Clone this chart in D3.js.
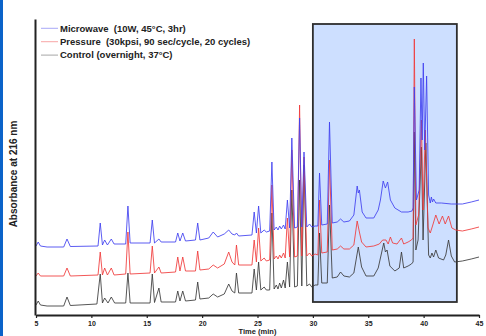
<!DOCTYPE html>
<html><head><meta charset="utf-8">
<script src="https://cdn.jsdelivr.net/npm/d3@7"></script>
<style>html,body{margin:0;padding:0;background:#fff;}svg{display:block;}</style>
</head><body>
<script>
// ---- data (time in min, absorbance in arbitrary units) ----
const seriesNames = ["Microwave  (10W, 45°C, 3hr)", "Pressure  (30kpsi, 90 sec/cycle, 20 cycles)", "Control (overnight, 37°C)"];
const xTicks = [5, 10, 15, 20, 25, 30, 35, 40, 45];
const highlightTime = [30, 43];
const highlightAbs = [13, 291];

const microwave = [[5,69],[5.2,73],[5.4,69],[6,68],[7.5,68],[7.8,76],[8.1,68.5],[10.6,69],[10.8,92],[11.0,70],[11.2,75],[11.45,70],[11.8,76],[12.05,71],[13.1,71],[13.3,109],[13.5,72],[15.3,72],[15.5,95],[15.7,72],[16.1,76],[16.3,73],[17.6,73],[17.8,82],[18.0,74],[18.25,82],[18.5,74],[19.4,75],[19.6,92],[19.8,75],[20.6,77],[21.0,83],[21.4,78],[22.0,81],[22.4,85],[22.7,81],[22.95,80],[23.1,82],[23.3,79],[24.5,80],[24.7,103],[24.9,82],[25.1,109],[25.3,82],[25.6,85],[25.8,83],[26.1,84],[26.3,153],[26.5,85],[26.7,88],[26.85,85],[27.0,89],[27.15,86],[27.35,90],[27.5,86],[27.7,115],[27.9,87],[28.1,177],[28.35,87],[28.6,88],[28.8,197],[29.0,88],[29.2,163],[29.45,88],[29.7,91],[29.9,88],[30.2,89],[30.45,89],[30.6,142],[30.8,90],[31.3,91],[31.5,193],[31.75,92],[32.2,93],[32.5,96],[32.8,93],[33.3,94],[33.7,100],[34.0,129],[34.1,122],[34.2,125],[34.45,103],[34.8,97],[35.5,97],[35.9,105],[36.1,115],[36.35,134],[36.55,127],[36.75,133],[37.0,115],[37.4,107],[38.0,103],[38.6,103],[38.95,104],[39.05,107],[39.16,228],[39.35,115],[39.6,125],[39.76,237],[39.87,175],[39.97,252],[40.1,165],[40.27,239],[40.45,120],[40.6,112],[40.7,118],[40.8,113],[40.9,116],[41.1,112],[41.6,112],[42.5,111],[43.5,111],[44.3,113],[45,115]];

const pressure = [[5,39],[5.2,42],[5.4,39],[7.5,39],[7.8,47],[8.1,39],[10.6,40],[10.8,63],[11.0,40],[11.2,47],[11.45,40],[11.8,47],[12.05,40],[13.1,41],[13.3,83],[13.5,41],[15.3,42],[15.5,69],[15.7,42],[16.1,48],[16.3,42],[17.6,43],[17.8,58],[18.0,44],[18.25,58],[18.5,44],[19.4,44],[19.6,64],[19.8,45],[20.6,46],[21.0,50],[21.4,47],[22.0,51],[22.4,63],[22.7,53],[22.95,50],[23.1,70],[23.3,50],[24.5,50],[24.7,75],[24.9,53],[25.1,87],[25.3,54],[25.6,57],[25.8,54],[26.1,55],[26.3,130],[26.5,56],[26.7,59],[26.85,56],[27.0,60],[27.15,57],[27.35,62],[27.5,57],[27.7,97],[27.9,58],[28.1,165],[28.35,58],[28.6,59],[28.8,210],[29.0,59],[29.2,158],[29.45,59],[29.7,62],[29.9,59],[30.2,61],[30.45,60],[30.6,115],[30.8,62],[31.3,63],[31.5,155],[31.75,65],[32.2,66],[32.5,69],[32.8,66],[33.3,66],[33.7,70],[34.0,94],[34.2,83],[34.4,73],[34.8,68],[35.5,69],[36.0,71],[36.3,75],[36.6,75],[36.8,71],[37.0,78],[37.2,72],[37.6,71],[38.0,77],[38.2,71],[38.6,73],[38.9,75],[39.05,77],[39.16,276],[39.3,90],[39.55,100],[39.8,195],[39.95,105],[40.15,185],[40.4,87],[40.6,82],[40.8,89],[41.1,100],[41.4,91],[41.7,99],[41.95,91],[42.25,99],[42.55,87],[42.9,85],[43.5,84],[44.3,86],[45,88]];

const control = [[5,10],[5.2,14],[5.4,10],[6,9],[7.5,9],[7.8,18],[8.1,9.5],[10.5,11],[10.8,41],[11.0,12],[11.2,17],[11.5,12],[11.8,18],[12.1,12],[13.1,12],[13.3,42],[13.5,12],[15.3,12],[15.5,41],[15.7,12.5],[16.1,27],[16.3,13],[17.6,13],[17.8,24],[18.0,14],[18.25,24],[18.5,14],[19.4,15],[19.6,33],[19.8,16],[20.6,17],[21.0,21],[21.4,18],[22.0,21],[22.4,31],[22.7,24],[22.95,22],[23.1,42],[23.3,22],[24.5,22],[24.7,46],[24.9,25],[25.1,53],[25.3,25],[25.6,28],[25.8,25],[26.1,25],[26.3,102],[26.5,26],[26.7,30],[26.85,26],[27.0,32],[27.15,27],[27.35,35],[27.5,27],[27.7,53],[27.9,28],[28.1,125],[28.35,28],[28.6,29],[28.8,135],[29.0,29],[29.2,150],[29.45,29],[29.7,31],[29.9,28],[30.2,30],[30.45,30],[30.6,82],[30.8,32],[31.3,32],[31.5,110],[31.75,37],[32.2,38],[32.5,43],[32.8,39],[33.3,38],[33.7,42],[34.1,68],[34.4,48],[34.8,39],[35.5,39],[35.9,47],[36.4,72],[36.55,63],[36.7,65],[36.95,49],[37.4,44],[37.8,47],[38.0,63],[38.2,47],[38.6,49],[38.9,51],[39.05,53],[39.16,183],[39.3,65],[39.5,75],[39.8,168],[39.95,75],[40.2,172],[40.45,60],[40.6,57],[40.75,62],[40.9,58],[41.1,65],[41.35,57],[41.8,55],[42.0,60],[42.25,75],[42.5,59],[42.8,53],[43.5,54],[44.3,56],[45,58]];

const seriesData = [microwave, pressure, control];
const seriesColors = ["#4040f0", "#f03a3a", "#3a3a3a"];

// ---- chart ----
const W = 486, H = 336;
const FONT = "Liberation Sans, Arial, sans-serif";
const svg = d3.select("body").append("svg").attr("width", W).attr("height", H);
svg.append("rect").attr("width", W).attr("height", H).attr("fill", "#fff");
svg.append("rect").attr("x", 0).attr("y", 0).attr("width", 3).attr("height", H).attr("fill", "#0b63c9");

const x = d3.scaleLinear().domain([5, 45]).range([36, 479]);
const y = d3.scaleLinear().domain([0, 296]).range([315, 19]);

// highlight window
svg.append("rect")
  .attr("x", x(highlightTime[0])).attr("y", y(highlightAbs[1]))
  .attr("width", x(highlightTime[1]) - x(highlightTime[0]))
  .attr("height", y(highlightAbs[0]) - y(highlightAbs[1]))
  .attr("fill", "#cddfff").attr("stroke", "#2e2e2e").attr("stroke-width", 1.8);

const line = d3.line().x(d => x(d[0])).y(d => y(d[1]));
[2, 1, 0].forEach(i => {
  svg.append("path").datum(seriesData[i]).attr("d", line)
    .attr("fill", "none").attr("stroke", seriesColors[i])
    .attr("stroke-width", 1).attr("stroke-opacity", 0.85).attr("stroke-linejoin", "round");
});

// axes
const xAxis = svg.append("g").attr("transform", "translate(0,315)")
  .call(d3.axisBottom(x).tickValues(xTicks).tickSize(3).tickSizeOuter(0).tickPadding(3.5).tickFormat(d3.format("d")));
xAxis.select(".domain").attr("stroke", "#222").attr("stroke-width", 2);
xAxis.selectAll(".tick line").attr("stroke", "#222").attr("stroke-width", 1.2);
xAxis.selectAll("text").attr("font-family", FONT).attr("font-size", 7).attr("font-weight", "bold").attr("fill", "#222");

const yAxis = svg.append("g").attr("transform", "translate(35,0)")
  .call(d3.axisLeft(y).tickValues([]).tickSizeOuter(0));
yAxis.select(".domain").attr("stroke", "#222").attr("stroke-width", 2);

svg.append("text").attr("x", 257.5).attr("y", 334.3).attr("text-anchor", "middle")
  .attr("font-family", FONT).attr("font-size", 7.5).attr("font-weight", "bold").attr("fill", "#222")
  .text("Time (min)");
svg.append("text").attr("transform", "translate(17,174) rotate(-90)").attr("text-anchor", "middle")
  .attr("font-family", FONT).attr("font-size", 10).attr("font-weight", "bold").attr("fill", "#222")
  .text("Absorbance at 216 nm");

// legend
const lg = svg.append("g");
seriesNames.forEach((n, i) => {
  const yy = 28.3 + i * 13.4;
  lg.append("line").attr("x1", 41).attr("x2", 58).attr("y1", yy).attr("y2", yy)
    .attr("stroke", seriesColors[i]).attr("stroke-width", 1).attr("stroke-opacity", 0.45);
  lg.append("text").attr("x", 60).attr("y", yy + 3.3)
    .attr("font-family", FONT).attr("font-size", 9.5).attr("font-weight", "bold").attr("fill", "#222")
    .style("white-space", "pre")
    .text(n);
});
</script>
</body></html>
